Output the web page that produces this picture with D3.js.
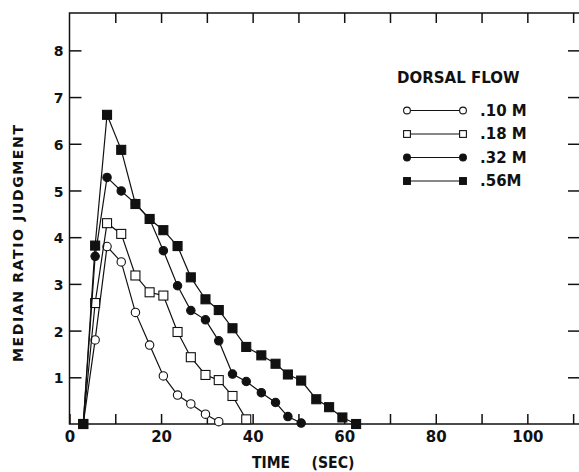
<!DOCTYPE html>
<html>
<head>
<meta charset="utf-8">
<script src="https://cdn.jsdelivr.net/npm/d3@7"></script>
<style>
  body { margin: 0; background: #fff; }
  svg { display: block; }
  text { font-family: "DejaVu Sans", sans-serif; font-weight: bold; fill: #111; }
</style>
</head>
<body>
<svg width="579" height="472"></svg>
<script>
// Sample times (sec), shared by all four series
const times = [3, 5.6, 8.2, 11.3, 14.4, 17.5, 20.5, 23.6, 26.5, 29.7, 32.6, 35.6, 38.6, 41.9, 45.0, 47.7, 50.6, 53.9, 56.7, 59.6, 62.6];

// Median ratio judgment per dorsal flow concentration
const flow10 = [0, 1.80, 3.80, 3.47, 2.39, 1.69, 1.03, 0.62, 0.43, 0.21, 0.05];
const flow18 = [0, 2.59, 4.30, 4.07, 3.18, 2.82, 2.75, 1.97, 1.43, 1.05, 0.94, 0.60, 0.10];
const flow32 = [0, 3.59, 5.28, 4.99, 4.72, 4.39, 3.71, 2.96, 2.43, 2.23, 1.78, 1.07, 0.91, 0.67, 0.46, 0.16, 0.02];
const flow56 = [0, 3.82, 6.62, 5.87, 4.71, 4.39, 4.15, 3.81, 3.14, 2.67, 2.44, 2.05, 1.65, 1.47, 1.29, 1.06, 0.93, 0.53, 0.36, 0.14, 0];

const legendLabels = [".10 M", ".18 M", ".32 M", ".56M"];
const xTicks = [0, 10, 20, 30, 40, 50, 60, 70, 80, 90, 100, 110];
const xLabels = [0, 20, 40, 60, 80, 100];
const yTicks = [1, 2, 3, 4, 5, 6, 7, 8];

const series = [
  { values: flow10, shape: "circle", filled: false },
  { values: flow18, shape: "square", filled: false },
  { values: flow32, shape: "circle", filled: true },
  { values: flow56, shape: "square", filled: true }
];

const svg = d3.select("svg");

const x = d3.scaleLinear().domain([0, 111.5]).range([69.5, 580]);
const y = d3.scaleLinear().domain([0, 8.8]).range([424, 13]);

// frame
svg.append("rect")
    .attr("fill", "none")
    .attr("stroke", "#111")
    .attr("stroke-width", 1.5)
    .attr("x", x(0)).attr("y", y(8.8))
    .attr("width", x(111.5) - x(0))
    .attr("height", y(0) - y(8.8));

// axes, ticks pointing inward
const axBottom = svg.append("g")
    .attr("transform", `translate(0,${y(0)})`)
    .call(d3.axisBottom(x).tickValues(xTicks).tickSize(-10).tickPadding(7)
        .tickFormat(d => xLabels.includes(d) ? d : ""));

const axTop = svg.append("g")
    .attr("transform", `translate(0,${y(8.8)})`)
    .call(d3.axisTop(x).tickValues(xTicks.slice(1)).tickSize(-10).tickFormat(""));

const axLeft = svg.append("g")
    .attr("transform", `translate(${x(0)},0)`)
    .call(d3.axisLeft(y).tickValues(yTicks).tickSize(-12).tickPadding(6));

const axRight = svg.append("g")
    .attr("transform", `translate(${x(111.5)},0)`)
    .call(d3.axisRight(y).tickValues(yTicks).tickSize(-12).tickFormat(""));

[axBottom, axTop, axLeft, axRight].forEach(g => {
  g.select(".domain").remove();
  g.selectAll(".tick line").attr("stroke", "#111").attr("stroke-width", 1.5);
  g.selectAll("text").attr("font-size", 14).attr("fill", "#111");
  g.attr("font-family", null).attr("font-size", null);
});
axBottom.selectAll("text").attr("font-size", 15);
axLeft.selectAll("text").attr("dy", "0.4em");

// axis titles
svg.append("text")
    .attr("x", 271).attr("y", 468)
    .attr("text-anchor", "middle")
    .attr("font-size", 15)
    .attr("textLength", 38).attr("lengthAdjust", "spacingAndGlyphs")
    .text("TIME");
svg.append("text")
    .attr("x", 333).attr("y", 468)
    .attr("text-anchor", "middle")
    .attr("font-size", 15)
    .attr("textLength", 43).attr("lengthAdjust", "spacingAndGlyphs")
    .text("(SEC)");
svg.append("text")
    .attr("transform", "translate(23,243.5) rotate(-90)")
    .attr("text-anchor", "middle")
    .attr("font-size", 14)
    .attr("textLength", 237).attr("lengthAdjust", "spacing")
    .text("MEDIAN RATIO JUDGMENT");

function drawMarker(g, s, cx, cy, r) {
  if (s.shape === "circle") {
    g.append("circle").attr("cx", cx).attr("cy", cy).attr("r", r);
  } else {
    g.append("rect").attr("x", cx - r).attr("y", cy - r)
        .attr("width", 2 * r).attr("height", 2 * r);
  }
}

// data series
const line = d3.line().x(d => x(d[0])).y(d => y(d[1]));
series.forEach(s => {
  const pts = s.values.map((v, i) => [times[i], v]);
  const g = svg.append("g");
  g.append("path")
      .attr("d", line(pts))
      .attr("fill", "none")
      .attr("stroke", "#111")
      .attr("stroke-width", 1.2);
  const m = g.append("g")
      .attr("fill", s.filled ? "#111" : "#fff")
      .attr("stroke", "#111")
      .attr("stroke-width", 1.1);
  pts.forEach(p => drawMarker(m, s, x(p[0]), y(p[1]), s.shape === "circle" ? 4.2 : 4.5));
});

// legend
svg.append("text")
    .attr("x", 397).attr("y", 83)
    .attr("font-size", 15)
    .text("DORSAL FLOW");

const rowY = d3.scaleLinear().domain([0, 3]).range([110.5, 181]);
series.forEach((s, i) => {
  const yy = rowY(i);
  const g = svg.append("g");
  g.append("line")
      .attr("x1", 407).attr("x2", 463)
      .attr("y1", yy).attr("y2", yy)
      .attr("stroke", "#111").attr("stroke-width", 1.2);
  const m = g.append("g")
      .attr("fill", s.filled ? "#111" : "#fff")
      .attr("stroke", "#111")
      .attr("stroke-width", 1.1);
  drawMarker(m, s, 407, yy, 3.4);
  drawMarker(m, s, 463, yy, 3.4);
  g.append("text")
      .attr("x", 480).attr("y", yy + 5)
      .attr("font-size", 15)
      .text(legendLabels[i]);
});
</script>
</body>
</html>
